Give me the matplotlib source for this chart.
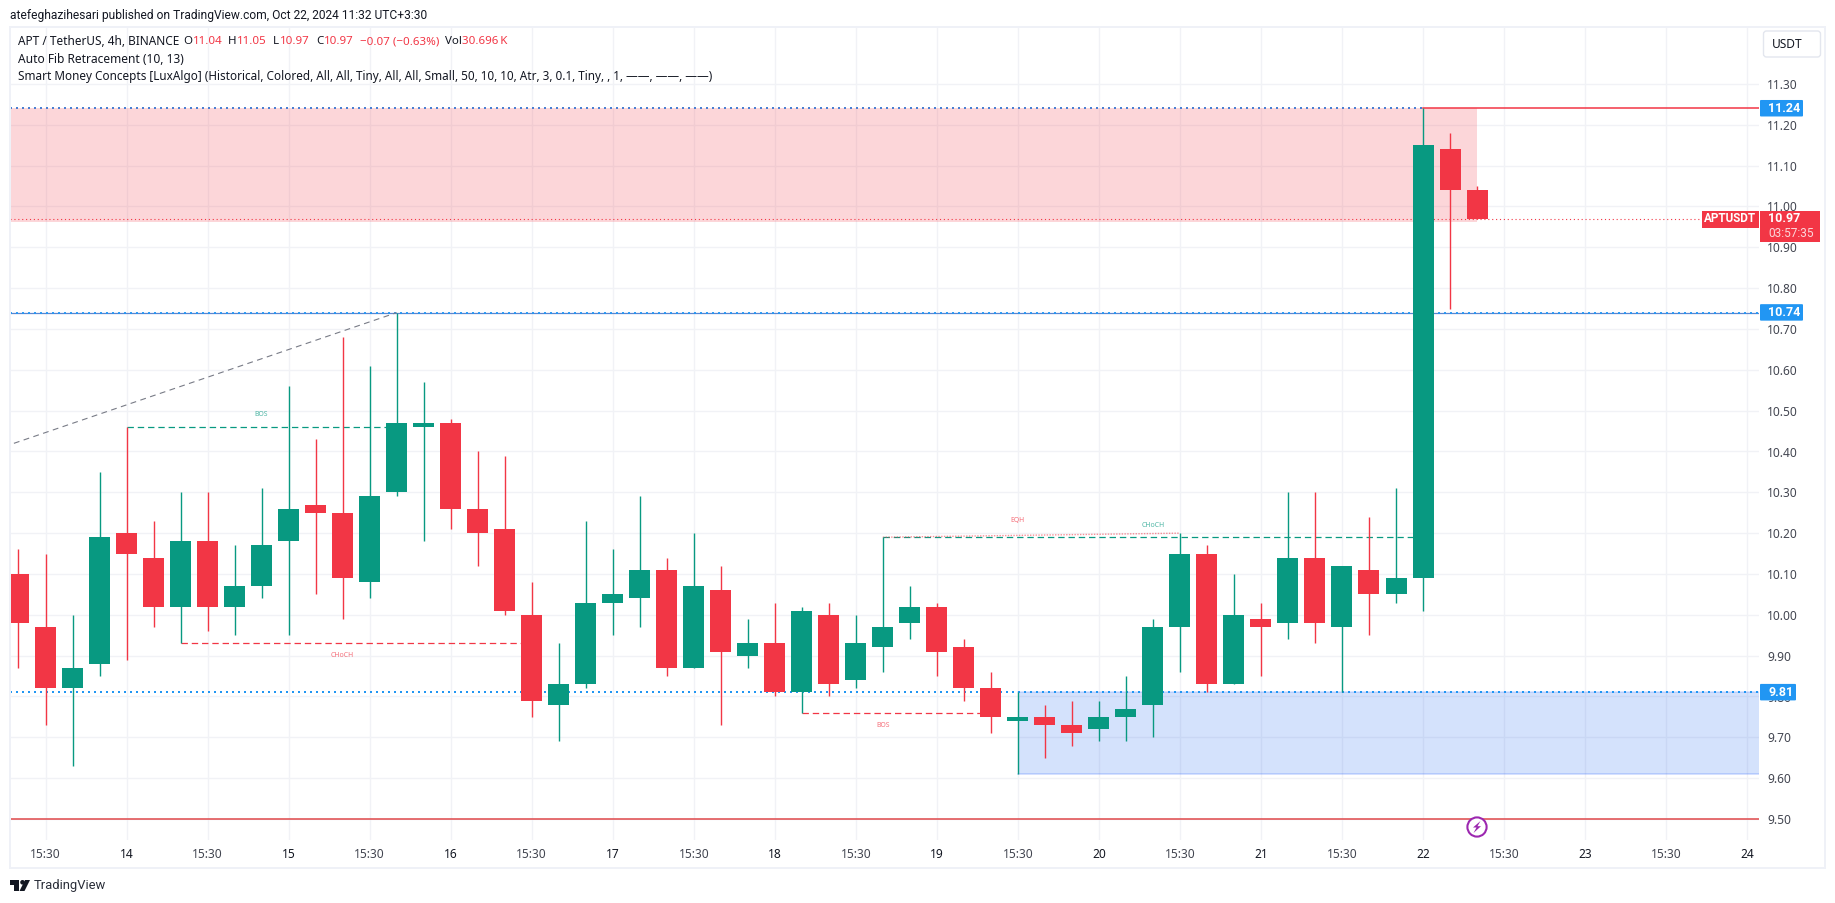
import matplotlib
matplotlib.use("Agg")
import matplotlib.pyplot as plt
from matplotlib.patches import Rectangle, FancyBboxPatch, Circle, Polygon
from matplotlib.transforms import IdentityTransform

W, H = 1835, 903
FONT = "Noto Sans"
plt.rcParams["font.family"] = [FONT, "DejaVu Sans"]
plt.rcParams["lines.scale_dashes"] = False

# ---------------- data ----------------
opens = [10.10, 9.97, 9.82, 9.88, 10.20, 10.14, 10.02, 10.18, 10.02, 10.07, 10.18,
         10.27, 10.25, 10.08, 10.30, 10.46, 10.47, 10.26, 10.21, 10.00, 9.78, 9.83,
         10.03, 10.04, 10.11, 9.87, 10.06, 9.90, 9.93, 9.81, 10.00, 9.84, 9.92, 9.98,
         10.02, 9.92, 9.82, 9.74, 9.75, 9.73, 9.72, 9.75, 9.78, 9.97, 10.15, 9.83,
         9.99, 9.98, 10.14, 9.97, 10.11, 10.05, 10.09, 11.14, 11.04]
highs = [10.16, 10.15, 10.00, 10.35, 10.46, 10.23, 10.30, 10.30, 10.17, 10.31, 10.56,
         10.43, 10.68, 10.61, 10.74, 10.57, 10.48, 10.40, 10.39, 10.08, 9.93, 10.23,
         10.16, 10.29, 10.14, 10.20, 10.12, 9.99, 10.03, 10.02, 10.03, 10.00, 10.19, 10.07,
         10.03, 9.94, 9.86, 9.81, 9.78, 9.79, 9.79, 9.85, 9.99, 10.20, 10.17, 10.10,
         10.03, 10.30, 10.30, 10.12, 10.24, 10.31, 11.24, 11.18, 11.05]
lows = [9.87, 9.73, 9.63, 9.85, 9.89, 9.97, 9.93, 9.96, 9.95, 10.04, 9.95,
        10.05, 9.99, 10.04, 10.29, 10.18, 10.21, 10.12, 10.00, 9.75, 9.69, 9.82,
        9.95, 9.97, 9.85, 9.87, 9.73, 9.87, 9.80, 9.76, 9.80, 9.82, 9.86, 9.94,
        9.85, 9.79, 9.71, 9.61, 9.65, 9.68, 9.69, 9.69, 9.70, 9.86, 9.81, 9.83,
        9.85, 9.94, 9.93, 9.81, 9.95, 10.03, 10.01, 10.75, 10.97]
closes = [9.98, 9.82, 9.87, 10.19, 10.15, 10.02, 10.18, 10.02, 10.07, 10.17, 10.26,
          10.25, 10.09, 10.29, 10.47, 10.47, 10.26, 10.20, 10.01, 9.79, 9.83, 10.03,
          10.05, 10.11, 9.87, 10.07, 9.91, 9.93, 9.81, 10.01, 9.83, 9.93, 9.97, 10.02,
          9.91, 9.82, 9.75, 9.75, 9.73, 9.71, 9.75, 9.77, 9.97, 10.15, 9.83, 10.00,
          9.97, 10.14, 9.98, 10.12, 10.05, 10.09, 11.15, 11.04, 10.97]

time_ticks = [1 + 3 * k for k in range(22)]
time_labels = ["15:30", "14", "15:30", "15", "15:30", "16", "15:30", "17", "15:30", "18", "15:30",
               "19", "15:30", "20", "15:30", "21", "15:30", "22", "15:30", "23", "15:30", "24"]
price_ticks = [9.5, 9.6, 9.7, 9.8, 9.9, 10.0, 10.1, 10.2, 10.3, 10.4, 10.5, 10.6,
               10.7, 10.8, 10.9, 11.0, 11.1, 11.2, 11.3]

supply_top, supply_bottom = 11.24, 10.963
demand_top, demand_bottom = 9.81, 9.61
level_high, level_mid, level_low, level_floor = 11.24, 10.74, 9.81, 9.50
last_price = 10.97

GREEN, RED, BLUE = "#089981", "#F23645", "#2196F3"
GRID, FRAME, TXT = "#F1F2F6", "#EFF1F7", "#434651"
DARK = "#131722"

# ---------------- figure ----------------
fig = plt.figure(figsize=((W + 0.01) / 100, (H + 0.01) / 100), dpi=100, facecolor="white")
L, R, T, B = 10, 1759, 27, 840
ax = fig.add_axes([L / W, 1 - B / H, (R - L) / W, (B - T) / H])
ax.set_xlim((L - 18.49) / 27.01, (R - 18.49) / 27.01)
ax.set_ylim(9.5 - 21 / 408.4, 11.3 + 57 / 408.4)
xl, xr = ax.get_xlim()
for s in ax.spines.values():
    s.set_visible(False)

ax.set_xticks(time_ticks, time_labels)
ax.set_yticks(price_ticks, [f"{p:.2f}" for p in price_ticks])
ax.yaxis.tick_right()
ax.tick_params(axis="both", length=0, labelsize=8.6, labelcolor=TXT)
ax.tick_params(axis="x", pad=6)
ax.tick_params(axis="y", pad=6)
for lab, txt_ in zip(ax.get_xticklabels(), time_labels):
    if txt_ != "15:30":
        lab.set_color(DARK)
ax.grid(True, color=GRID, lw=1.0, zorder=0)
ax.set_axisbelow(True)

# zones
ax.add_patch(Rectangle((xl, supply_bottom), 54 - xl, supply_top - supply_bottom,
                       fc=RED, alpha=0.2, ec="none", zorder=1))
ax.add_patch(Rectangle((37, demand_bottom), xr - 37, demand_top - demand_bottom,
                       fc="#2A6FF0", alpha=0.2, ec="none", zorder=1))
ax.plot([37, xr], [demand_bottom, demand_bottom], color="#2962FF", alpha=0.25, lw=1.1, zorder=1)
ax.plot([37, xr], [demand_top, demand_top], color="#2962FF", alpha=0.2, lw=1.1, zorder=1)

# level lines
ax.plot([xl, 52], [level_high, level_high], color="#4A7FD2", lw=1.44, dashes=(1.44, 2.88), zorder=2)
ax.plot([52, xr], [level_high, level_high], color=RED, lw=1.1, zorder=2)
ax.plot([xl, xr], [level_mid, level_mid], color="#5B86D0", lw=0.9, zorder=2)
ax.plot([xl, xr], [level_mid, level_mid], color=BLUE, lw=1.3, dashes=(1.44, 2.88), zorder=2)
ax.plot([xl, xr], [level_low, level_low], color=BLUE, lw=1.44, dashes=(1.44, 2.88), zorder=2)
ax.plot([xl, xr], [level_floor, level_floor], color="#E0484A", lw=1.1, zorder=2)
ax.plot([xl, xr], [last_price, last_price], color=RED, lw=0.8, dashes=(0.8, 2.0), zorder=2)

# structure lines
ax.plot([-0.17, 14], [10.42, 10.74], color="#787B86", lw=0.8, dashes=(4.2, 3.2), zorder=2)
DASH = (4.6, 2.8)
ax.plot([4, 14], [10.46, 10.46], color=GREEN, lw=0.9, dashes=DASH, zorder=2)
ax.plot([6, 19], [9.93, 9.93], color=RED, lw=0.9, dashes=DASH, zorder=2)
ax.plot([29, 36], [9.76, 9.76], color=RED, lw=0.9, dashes=DASH, zorder=2)
ax.plot([32, 52], [10.19, 10.19], color=GREEN, lw=0.9, dashes=DASH, zorder=2)
ax.plot([32, 43], [10.19, 10.20], color=RED, alpha=0.55, lw=1.0, dashes=(1.0, 1.0), zorder=2)

for x, y, s, c in [(9, 10.49, "BOS", GREEN), (12, 9.90, "CHoCH", RED), (32, 9.73, "BOS", RED),
                   (37, 10.23, "EQH", RED), (42, 10.22, "CHoCH", GREEN)]:
    ax.text(x, y, s, color=c, alpha=0.7, fontsize=5, ha="center", va="center", zorder=2)

# candles
idx = list(range(len(opens)))
colors = [GREEN if c >= o else RED for o, c in zip(opens, closes)]
ax.vlines(idx, lows, highs, colors=colors, lw=1.0, zorder=3)
ax.bar(idx, [abs(c - o) for o, c in zip(opens, closes)],
       bottom=[min(o, c) for o, c in zip(opens, closes)],
       width=21 / 27.01, color=colors, lw=0, zorder=4)


# ---------------- page furniture (pixel coordinates) ----------------
def rect(x0, y0, x1, y1, color, **kw):
    fig.add_artist(Rectangle((x0, H - y1), x1 - x0, y1 - y0, fc=color, ec="none",
                             transform=IdentityTransform(), **kw))


def label_y(v):
    return H - ax.transData.transform((0, v))[1]


def txt(x, y, s, color=DARK, size=9.3, ha="left", va="center", **kw):
    return fig.text(x / W, 1 - y / H, s, color=color, fontsize=size, ha=ha, va=va, **kw)


# frame
rect(9, 26, 1826, 28, FRAME)
rect(9, 867, 1826, 869, FRAME)
rect(9, 26, 11, 869, FRAME)
rect(1824, 26, 1826, 869, FRAME)

# price tags
for v in [level_high, level_mid, level_low]:
    y = label_y(v)
    s = f"{v:.2f}"
    w = 43 if v >= 10 else 36
    fig.add_artist(FancyBboxPatch((1760, H - y - 8), w, 16.5, boxstyle="round,pad=0,rounding_size=1",
                                  fc=BLUE, ec="none", transform=IdentityTransform(), zorder=6))
    txt(1768, y, s, color="white", size=9.0, fontweight="bold", family="Roboto", zorder=7)

yp = label_y(last_price)
rect(1702, yp - 8, 1759, yp + 9, RED, zorder=6)
txt(1730.5, yp, "APTUSDT", color="white", size=8.4, ha="center", fontweight="bold", family="Roboto", zorder=7)
rect(1760, yp - 8, 1820, yp + 23, RED, zorder=6)
txt(1768, yp, f"{last_price:.2f}", color="white", size=9.0, fontweight="bold", family="Roboto", zorder=7)
txt(1768, yp + 14.5, "03:57:35", color="#FBD7DA", size=8.6, family="Roboto", zorder=7)

# USDT button
fig.add_artist(FancyBboxPatch((1763.5, H - 57), 57, 26, boxstyle="round,pad=0,rounding_size=3",
                              fc="white", ec="#E3E6EE", lw=1.0, transform=IdentityTransform()))
txt(1772, 44.5, "USDT", size=8.6)

# header
txt(10, 15.5, "atefeghazihesari published on TradingView.com, Oct 22, 2024 11:32 UTC+3:30",
    size=8.67, family="Roboto")

# legend
LEG = 8.3
txt(18, 41.5, "APT / TetherUS, 4h, BINANCE", size=8.5)
runs = [(183, "O", DARK), (193, "11.04", RED), (228, "H", DARK), (237, "11.05", RED),
        (273, "L", DARK), (280, "10.97", RED), (316, "C", DARK), (324, "10.97", RED),
        (360, "\u22120.07 (\u22120.63%)", RED), (445, "Vol", DARK), (462, "30.696\u2009K", RED)]
for rx, s, c in runs:
    txt(rx, 41.5, s, color=c, size=LEG)
txt(18, 59, "Auto Fib Retracement (10, 13)", size=8.6)
txt(18, 76.5, "Smart Money Concepts [LuxAlgo] (Historical, Colored, All, All, Tiny, All, All, Small, "
              "50, 10, 10, Atr, 3, 0.1, Tiny, , 1, \u2014\u2014, \u2014\u2014, \u2014\u2014)", size=8.45)

# lightning badge
fig.add_artist(Circle((1477, H - 827), 9.6, fc="white", ec="#9C27B0", lw=1.5,
                      transform=IdentityTransform(), zorder=6))
cx, cy = 1477, H - 827
bolt = [(3.5, 6), (-4, -0.5), (-0.5, -0.5), (-3.5, -6), (4, 0.8), (0.5, 0.8)]
fig.add_artist(Polygon([(cx + a, cy + b) for a, b in bolt], closed=True, fc="#9C27B0", ec="none",
                       transform=IdentityTransform(), zorder=7))

# TradingView logo
rect(10, 880, 19, 884.5, DARK)
rect(14, 880, 19, 891, DARK)
fig.add_artist(Circle((22.5, H - 882.3), 2.3, fc=DARK, ec="none", transform=IdentityTransform()))
fig.add_artist(Polygon([(24.5, H - 891), (30, H - 880), (25, H - 880), (19.5, H - 891)], closed=True,
                       fc=DARK, ec="none", transform=IdentityTransform()))
txt(33.5, 885.5, "TradingView", color="#2A2E39", size=9.4, family="Roboto")

fig.savefig("out.png", dpi=100, facecolor="white")
